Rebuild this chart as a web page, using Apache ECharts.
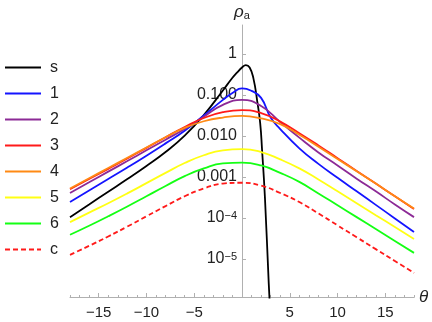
<!DOCTYPE html>
<html>
<head>
<meta charset="utf-8">
<script src="https://cdn.jsdelivr.net/npm/echarts@6/dist/echarts.min.js"></script>
<style>
  html, body { margin: 0; padding: 0; background: #fff; }
  #chart { width: 432px; height: 322px; }
</style>
</head>
<body>
<div id="chart"></div>
<script>
// theta grid used by curves 2..6 and c
var theta = [-18, -16, -14, -12, -10, -8, -6, -4, -2, 0, 2, 4, 6, 8, 10, 12, 14, 16, 18];

// s curve: own grid, it falls off very fast right of the peak
var thetaS = [-18, -16, -14, -12, -10, -8, -6, -4, -2, -1, -0.5, 0, 0.4, 0.8, 1.2, 1.6, 1.9, 2.1, 2.4, 2.8, 3.2];
var rhoS = [1.05e-4, 2.14e-4, 4.37e-4, 8.91e-4, 1.86e-3, 4.07e-3, 1.02e-2, 3.24e-2, 0.129, 0.263, 0.355, 0.468,
  0.537, 0.468, 0.251, 6.92e-2, 2.09e-2, 4.57e-3, 3.16e-4, 2.51e-6, 3.16e-8];

// curve 1: a few extra points around its peak
var theta1 = [-18, -16, -14, -12, -10, -8, -6, -4, -2, -1, 0, 1, 2, 3, 4, 6, 8, 10, 12, 14, 16, 18];
var rho1 = [2.45e-4, 4.68e-4, 8.91e-4, 1.70e-3, 3.31e-3, 6.61e-3, 1.35e-2, 3.16e-2, 7.59e-2, 0.112, 0.145, 0.126,
  8.51e-2, 2.82e-2, 1.48e-2, 5.01e-3, 2.09e-3, 9.55e-4, 4.47e-4, 2.09e-4, 9.77e-5, 4.57e-5];

var rho2 = [4.07e-4, 7.41e-4, 1.35e-3, 2.45e-3, 4.47e-3, 8.13e-3, 1.48e-2, 2.95e-2, 5.75e-2, 7.59e-2, 5.37e-2,
  2.19e-2, 9.12e-3, 3.98e-3, 1.91e-3, 9.12e-4, 4.47e-4, 2.14e-4, 1.05e-4];
var rho3 = [5.01e-4, 8.91e-4, 1.58e-3, 2.82e-3, 5.13e-3, 9.33e-3, 1.66e-2, 2.75e-2, 3.80e-2, 4.27e-2, 3.63e-2,
  2.24e-2, 1.17e-2, 5.89e-3, 2.88e-3, 1.41e-3, 6.92e-4, 3.39e-4, 1.66e-4];
var rho4 = [5.25e-4, 9.33e-4, 1.66e-3, 2.95e-3, 5.25e-3, 9.33e-3, 1.58e-2, 2.29e-2, 2.82e-2, 3.09e-2, 2.69e-2,
  1.95e-2, 1.07e-2, 5.50e-3, 2.75e-3, 1.38e-3, 6.92e-4, 3.39e-4, 1.70e-4];
var rho5 = [7.94e-5, 1.35e-4, 2.29e-4, 3.98e-4, 7.08e-4, 1.26e-3, 2.19e-3, 3.39e-3, 4.47e-3, 4.79e-3, 4.07e-3,
  2.69e-3, 1.62e-3, 8.71e-4, 4.47e-4, 2.29e-4, 1.17e-4, 6.03e-5, 3.09e-5];
var rho6 = [3.89e-5, 6.46e-5, 1.10e-4, 1.91e-4, 3.39e-4, 6.03e-4, 1.05e-3, 1.62e-3, 2.14e-3, 2.24e-3, 1.91e-3,
  1.26e-3, 7.59e-4, 3.98e-4, 2.04e-4, 1.05e-4, 5.37e-5, 2.75e-5, 1.41e-5];
var rhoC = [1.26e-5, 2.09e-5, 3.55e-5, 6.17e-5, 1.10e-4, 1.95e-4, 3.39e-4, 5.25e-4, 6.92e-4, 7.24e-4, 6.17e-4,
  4.07e-4, 2.45e-4, 1.29e-4, 6.61e-5, 3.39e-5, 1.74e-5, 8.91e-6, 4.57e-6];

var names = ['s', '1', '2', '3', '4', '5', '6', 'c'];
var colors = ['#000000', '#1414ff', '#8c2a96', '#ff1a1a', '#ff8a14', '#ffff14', '#14ff14', '#ff1a1a'];

var yTicks = [1e-5, 1e-4, 1e-3, 1e-2, 0.1, 1];
var xLabels = [-15, -10, -5, 5, 10, 15];

var font = "'Liberation Sans', Arial, sans-serif";

function pairs(xs, ys) {
  return xs.map(function (x, i) { return [x, ys[i]]; });
}

var curves = [
  pairs(thetaS, rhoS), pairs(theta1, rho1), pairs(theta, rho2), pairs(theta, rho3),
  pairs(theta, rho4), pairs(theta, rho5), pairs(theta, rho6), pairs(theta, rhoC)
];

var chartDom = document.getElementById('chart');
var myChart = echarts.init(chartDom);
var option;

var gridLeft = 70, gridRight = 18;
// put the y axis where theta = 0 sits (middle of the plot)
var yOffset = -(432 - gridLeft - gridRight) / 2;

option = {
  animation: false,
  textStyle: { fontFamily: font },
  grid: { left: gridLeft, right: gridRight, top: 25, bottom: 24.5, outerBoundsMode: 'none' },
  legend: {
    orient: 'vertical',
    left: 4,
    top: 59,
    padding: 0,
    itemWidth: 36,
    itemHeight: 14,
    itemGap: 9,
    data: names,
    itemStyle: { opacity: 0 },
    textStyle: { fontSize: 16, color: '#222', fontFamily: font, lineHeight: 17, padding: [0, 0, 0, 4] }
  },
  xAxis: [
    {
      type: 'value',
      min: -18,
      max: 18,
      interval: 1,
      name: 'θ',
      nameLocation: 'end',
      nameGap: 5,
      nameTextStyle: { fontSize: 17, fontStyle: 'italic', color: '#222', fontFamily: font },
      axisLine: { onZero: false, lineStyle: { color: '#b0b0b0', width: 1 } },
      axisTick: { inside: true, length: 2.5, lineStyle: { color: '#b0b0b0' } },
      splitLine: { show: false },
      axisLabel: {
        interval: 0,
        margin: 8,
        fontSize: 15,
        color: '#222',
        formatter: function (v) {
          if (xLabels.indexOf(v) < 0) return '';
          return v < 0 ? '\u2212' + (-v) : String(v);
        }
      }
    },
    {
      type: 'value',
      min: -18,
      max: 18,
      position: 'bottom',
      axisLine: { show: false },
      axisLabel: { show: false },
      splitLine: { show: false },
      axisTick: { inside: true, length: 4.5, customValues: [-15, -10, -5, 5, 10, 15], lineStyle: { color: '#b0b0b0' } }
    }
  ],
  yAxis: {
    type: 'log',
    logBase: 10,
    min: 1.15e-6,
    max: 5.1,
    offset: yOffset,
    name: '{r|ρ}{s|a}',
    nameLocation: 'end',
    nameGap: 4,
    nameTextStyle: {
      rich: {
        r: { fontSize: 17, fontStyle: 'italic', color: '#222', fontFamily: font },
        s: { fontSize: 11, color: '#222', fontFamily: font, verticalAlign: 'bottom' }
      }
    },
    axisLine: { onZero: false, lineStyle: { color: '#b0b0b0', width: 1 } },
    axisTick: { inside: true, length: 4, customValues: yTicks, lineStyle: { color: '#b0b0b0' } },
    splitLine: { show: false },
    axisLabel: {
      customValues: yTicks,
      margin: 5,
      fontSize: 16,
      color: '#222',
      formatter: function (v) {
        var e = Math.round(Math.log10(v));
        if (Math.abs(Math.log10(v) - e) > 1e-6) return '';
        if (e === 0) return '{b|1}';
        if (e >= -3) return '{b|' + Math.pow(10, e).toFixed(3) + '}';
        return '{b|10}{p|\u2212' + (-e) + '}';
      },
      rich: {
        b: { fontSize: 16, color: '#222', fontFamily: font },
        p: { fontSize: 11, color: '#222', fontFamily: font, verticalAlign: 'top' }
      }
    }
  },
  series: names.map(function (n, i) {
    return {
      name: n,
      type: 'line',
      xAxisIndex: 0,
      data: curves[i],
      showSymbol: false,
      symbol: 'none',
      smooth: 0.5,
      clip: true,
      lineStyle: { color: colors[i], width: 1.8, type: n === 'c' ? [5, 3] : 'solid' },
      itemStyle: { color: colors[i], opacity: 0 }
    };
  })
};

option && myChart.setOption(option);
</script>
</body>
</html>
